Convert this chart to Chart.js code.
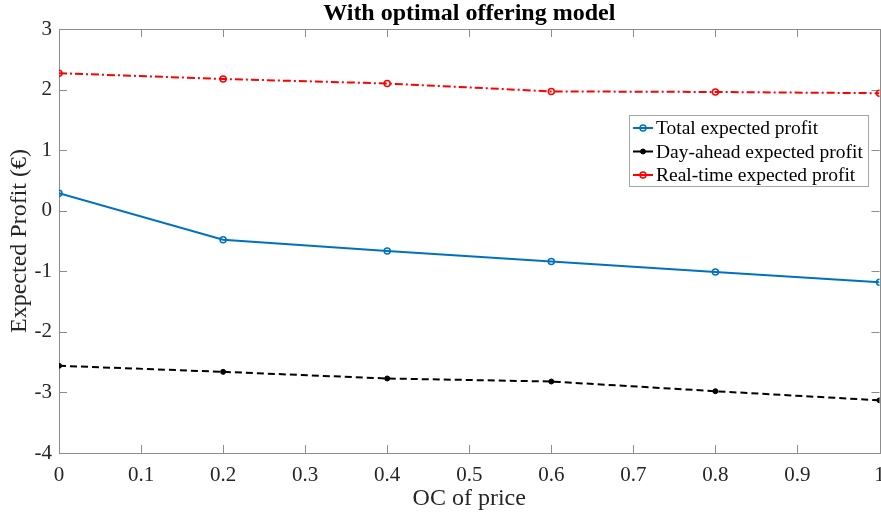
<!DOCTYPE html>
<html>
<head>
<meta charset="utf-8">
<script src="https://cdn.jsdelivr.net/npm/chart.js@4"></script>
<style>
  body { margin: 0; background: #fff; overflow: hidden; }
  #chart { display: block; }
</style>
</head>
<body>
<!-- a few px wider than the window so the axes reach the right edge like the original; the "1" label gets clipped there too -->
<canvas id="chart" width="885" height="513"></canvas>
<script>
// OC of price (x values)
const ocPrice = [0, 0.2, 0.4, 0.6, 0.8, 1];

// expected profit
const totalProfit = [0.29, -0.48, -0.665, -0.84, -1.01, -1.18];
const dayAheadProfit = [-2.56, -2.66, -2.77, -2.82, -2.98, -3.13];
const realTimeProfit = [2.27, 2.175, 2.10, 1.97, 1.96, 1.94];

const seriesNames = ['Total expected profit', 'Day-ahead expected profit', 'Real-time expected profit'];
const chartTitle = 'With optimal offering model';

const xTicks = [0, 0.1, 0.2, 0.3, 0.4, 0.5, 0.6, 0.7, 0.8, 0.9, 1];
const yTicks = [-4, -3, -2, -1, 0, 1, 2, 3];

const SERIF = "'Liberation Serif', 'Times New Roman', serif";
const AXIS_GREY = '#8c8c8c';

const toPoints = (ys) => ocPrice.map((x, i) => ({ x: x, y: ys[i] }));

// box round the plot with inward ticks, like MATLAB, plus title centred on the axes
const matlabAxes = {
    id: 'matlabAxes',
    beforeDatasetsDraw(chart) {
        const { ctx, chartArea: a, scales } = chart;
        ctx.save();
        ctx.strokeStyle = AXIS_GREY;
        ctx.lineWidth = 1;
        ctx.beginPath();
        xTicks.forEach(v => {
            const px = Math.round(scales.x.getPixelForValue(v)) + 0.5;
            ctx.moveTo(px, a.bottom); ctx.lineTo(px, a.bottom - 8);
            ctx.moveTo(px, a.top); ctx.lineTo(px, a.top + 8);
        });
        yTicks.forEach(v => {
            const py = Math.round(scales.y.getPixelForValue(v)) + 0.5;
            ctx.moveTo(a.left, py); ctx.lineTo(a.left + 8, py);
            ctx.moveTo(a.right, py); ctx.lineTo(a.right - 8, py);
        });
        ctx.stroke();
        ctx.strokeRect(Math.round(a.left) + 0.5, Math.round(a.top) + 0.5,
            Math.round(a.right - a.left), Math.round(a.bottom - a.top));

        ctx.fillStyle = '#000';
        ctx.font = 'bold 24px ' + SERIF;
        ctx.textAlign = 'center';
        ctx.textBaseline = 'middle';
        ctx.fillText(chartTitle, (a.left + a.right) / 2, 14);
        ctx.restore();
    }
};

// legend box inside the plot, top right
const boxLegend = {
    id: 'boxLegend',
    afterDraw(chart) {
        const ctx = chart.ctx;
        const left = 629.5, top = 115.5, w = 239, h = 71;
        ctx.save();
        ctx.fillStyle = '#fff';
        ctx.fillRect(left, top, w, h);
        ctx.strokeStyle = '#a6a6a6';
        ctx.lineWidth = 1;
        ctx.strokeRect(left, top, w, h);
        ctx.font = '19.5px ' + SERIF;
        ctx.textBaseline = 'middle';
        chart.data.datasets.forEach((ds, i) => {
            const y = 128 + i * 23.5;
            ctx.strokeStyle = ds.borderColor;
            ctx.lineWidth = 2;
            ctx.setLineDash([]);
            ctx.beginPath();
            ctx.moveTo(633, y); ctx.lineTo(653, y);
            ctx.stroke();
            ctx.beginPath();
            ctx.arc(643, y, ds.pointRadius, 0, Math.PI * 2);
            ctx.fillStyle = ds.pointBackgroundColor;
            ctx.fill();
            ctx.lineWidth = ds.pointBorderWidth;
            ctx.stroke();
            ctx.fillStyle = '#000';
            ctx.fillText(ds.label, 656, y + 1);
        });
        ctx.restore();
    }
};

new Chart(document.getElementById('chart'), {
    type: 'line',
    data: {
        datasets: [
            {
                label: seriesNames[0],
                data: toPoints(totalProfit),
                borderColor: '#0072BD',
                borderWidth: 2,
                pointRadius: 3,
                pointBorderWidth: 1.5,
                pointBackgroundColor: 'rgba(0,0,0,0)',
                pointBorderColor: '#0072BD'
            },
            {
                label: seriesNames[1],
                data: toPoints(dayAheadProfit),
                borderColor: '#000000',
                borderWidth: 2,
                borderDash: [7, 4],
                pointRadius: 2.5,
                pointBorderWidth: 1,
                pointBackgroundColor: '#000000',
                pointBorderColor: '#000000'
            },
            {
                label: seriesNames[2],
                data: toPoints(realTimeProfit),
                borderColor: '#FF0000',
                borderWidth: 2,
                borderDash: [8, 3, 2, 3],
                pointRadius: 3,
                pointBorderWidth: 1.5,
                pointBackgroundColor: 'rgba(0,0,0,0)',
                pointBorderColor: '#FF0000'
            }
        ]
    },
    options: {
        responsive: false,
        animation: false,
        layout: { padding: { left: 0, right: 2.5, top: 29, bottom: 0 } },
        plugins: {
            legend: { display: false },
            tooltip: { enabled: false },
            title: { display: false }
        },
        scales: {
            x: {
                type: 'linear',
                min: 0,
                max: 1,
                grid: { display: false, drawTicks: false },
                border: { display: false },
                ticks: {
                    stepSize: 0.1,
                    color: '#262626',
                    padding: 10,
                    maxRotation: 0,
                    font: { family: SERIF, size: 21 },
                    callback: v => String(+v.toFixed(1))
                },
                title: {
                    display: true,
                    text: 'OC of price',
                    color: '#262626',
                    font: { family: SERIF, size: 24 },
                    padding: { top: 0, bottom: 0 }
                },
                afterFit: s => { s.height = 60; s.paddingLeft = 0; s.paddingRight = 0; }
            },
            y: {
                min: -4,
                max: 3,
                grid: { display: false, drawTicks: false },
                border: { display: false },
                ticks: {
                    stepSize: 1,
                    color: '#262626',
                    padding: 7,
                    font: { family: SERIF, size: 21 }
                },
                title: {
                    display: true,
                    text: 'Expected Profit (€)',
                    color: '#262626',
                    font: { family: SERIF, size: 24 },
                    padding: { top: 5, bottom: 0 }
                },
                afterFit: s => { s.width = 59; s.paddingTop = 0; s.paddingBottom = 0; }
            }
        }
    },
    plugins: [matlabAxes, boxLegend]
});
</script>
</body>
</html>
